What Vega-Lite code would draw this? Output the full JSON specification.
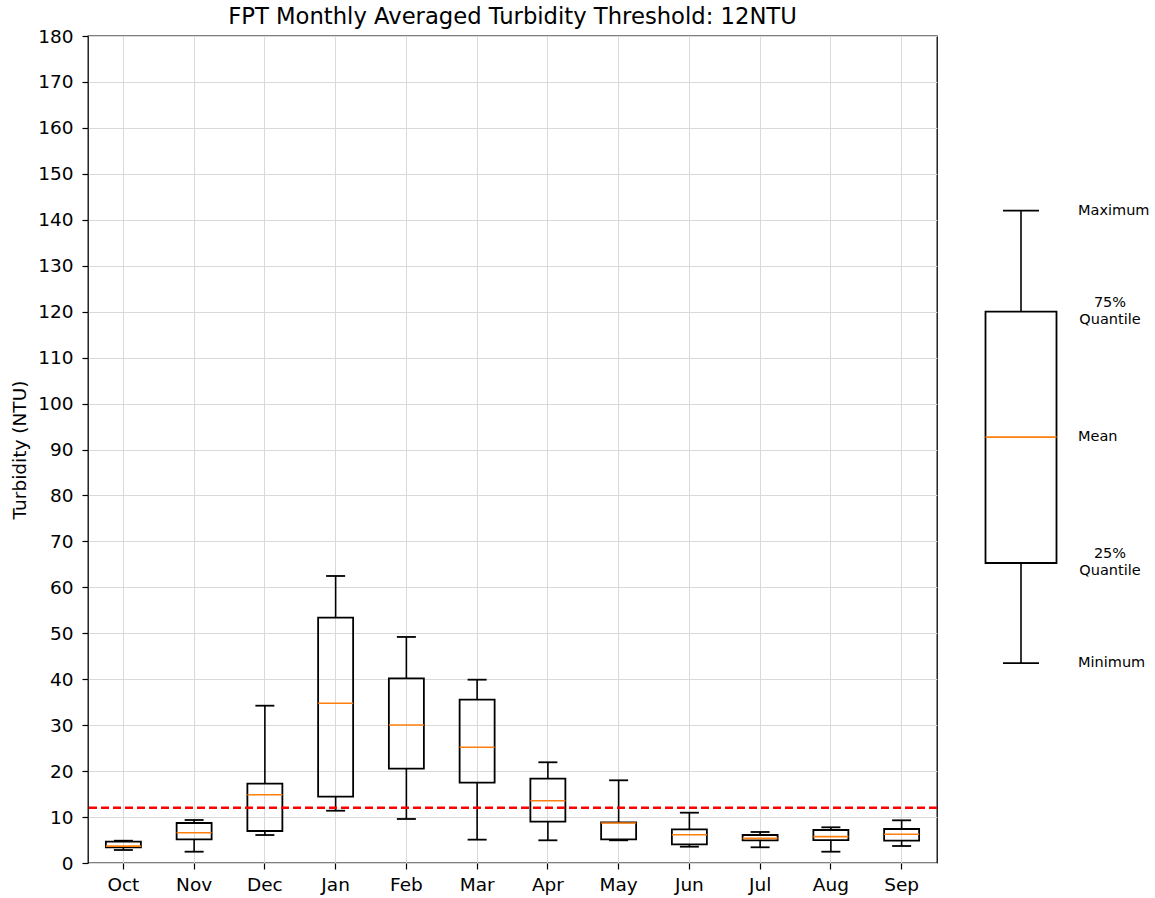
{
  "$schema": "https://vega.github.io/schema/vega-lite/v6.json",
  "padding": {"left": 10, "top": 5, "right": 0, "bottom": 5},
  "background": "white",
  "bounds": "flush",
  "spacing": 3,
  "config": {
    "font": "DejaVu Sans",
    "view": {"stroke": null},
    "axis": {
      "labelColor": "black",
      "titleColor": "black",
      "tickColor": "black",
      "labelFont": "DejaVu Sans",
      "titleFont": "DejaVu Sans",
      "labelFontSize": 18.5,
      "titleFontSize": 18.5,
      "titleFontWeight": "normal",
      "tickSize": 6,
      "tickWidth": 1.2,
      "gridColor": "#d9d9d9",
      "gridWidth": 1,
      "domain": false
    }
  },
  "datasets": {
    "months": [
      {"month": "Oct", "min": 2.83, "q1": 3.42, "median": 3.68, "q3": 4.64, "max": 4.85},
      {"month": "Nov", "min": 2.46, "q1": 5.16, "median": 6.6, "q3": 8.71, "max": 9.36},
      {"month": "Dec", "min": 6.09, "q1": 6.97, "median": 14.87, "q3": 17.26, "max": 34.24},
      {"month": "Jan", "min": 11.38, "q1": 14.43, "median": 34.76, "q3": 53.4, "max": 62.47},
      {"month": "Feb", "min": 9.58, "q1": 20.53, "median": 30.04, "q3": 40.2, "max": 49.2},
      {"month": "Mar", "min": 5.08, "q1": 17.48, "median": 25.18, "q3": 35.55, "max": 39.9},
      {"month": "Apr", "min": 4.94, "q1": 8.99, "median": 13.56, "q3": 18.35, "max": 21.92},
      {"month": "May", "min": 4.94, "q1": 5.16, "median": 8.71, "q3": 8.86, "max": 18.0},
      {"month": "Jun", "min": 3.55, "q1": 4.07, "median": 6.16, "q3": 7.33, "max": 10.95},
      {"month": "Jul", "min": 3.42, "q1": 4.94, "median": 5.37, "q3": 6.09, "max": 6.75},
      {"month": "Aug", "min": 2.46, "q1": 5.0, "median": 5.73, "q3": 7.18, "max": 7.77},
      {"month": "Sep", "min": 3.7, "q1": 4.86, "median": 6.25, "q3": 7.4, "max": 9.29}
    ],
    "legendbox": [
      {"k": "box", "min": 43.5, "q1": 65.3, "median": 92.7, "q3": 120, "max": 142}
    ],
    "labels1": [
      {"k": "box", "label": "Maximum", "v": 142},
      {"k": "box", "label": "Mean", "v": 92.7},
      {"k": "box", "label": "Minimum", "v": 43.5}
    ],
    "labels2": [
      {"k": "box", "label": "75%\nQuantile", "v": 120},
      {"k": "box", "label": "25%\nQuantile", "v": 65.3}
    ],
    "threshold": [{"t": 12}]
  },
  "hconcat": [
    {
      "width": 849,
      "height": 827,
      "title": {"text": "FPT Monthly Averaged Turbidity Threshold: 12NTU", "fontSize": 22.7, "fontWeight": "normal", "color": "black", "font": "DejaVu Sans", "offset": -2},
      "view": {"stroke": "black", "strokeWidth": 1.3},
      "data": {"name": "months"},
      "layer": [
        {
          "mark": {"type": "rule", "color": "black", "strokeWidth": 1.6},
          "encoding": {
            "x": {"field": "month", "type": "nominal", "sort": null, "scale": {"paddingInner": 0, "paddingOuter": 0},
                  "axis": {"title": null, "labelAngle": 0, "grid": true, "labelPadding": 6}},
            "y": {"field": "min", "type": "quantitative", "scale": {"domain": [0, 180], "nice": false},
                  "axis": {"title": "Turbidity (NTU)", "values": [0,10,20,30,40,50,60,70,80,90,100,110,120,130,140,150,160,170,180], "grid": true, "labelPadding": 9, "titlePadding": 8}},
            "y2": {"field": "q1"}
          }
        },
        {
          "mark": {"type": "rule", "color": "black", "strokeWidth": 1.6},
          "encoding": {
            "x": {"field": "month", "type": "nominal", "sort": null},
            "y": {"field": "q3", "type": "quantitative"},
            "y2": {"field": "max"}
          }
        },
        {
          "mark": {"type": "tick", "color": "black", "size": 19, "thickness": 1.8, "opacity": 1},
          "encoding": {
            "x": {"field": "month", "type": "nominal", "sort": null},
            "y": {"field": "min", "type": "quantitative"}
          }
        },
        {
          "mark": {"type": "tick", "color": "black", "size": 19, "thickness": 1.8, "opacity": 1},
          "encoding": {
            "x": {"field": "month", "type": "nominal", "sort": null},
            "y": {"field": "max", "type": "quantitative"}
          }
        },
        {
          "mark": {"type": "bar", "fillOpacity": 0, "stroke": "black", "strokeWidth": 1.8, "size": 35},
          "encoding": {
            "x": {"field": "month", "type": "nominal", "sort": null},
            "y": {"field": "q1", "type": "quantitative"},
            "y2": {"field": "q3"}
          }
        },
        {
          "mark": {"type": "tick", "color": "#ff7f0e", "size": 35, "thickness": 1.6, "opacity": 1},
          "encoding": {
            "x": {"field": "month", "type": "nominal", "sort": null},
            "y": {"field": "median", "type": "quantitative"}
          }
        },
        {
          "data": {"name": "threshold"},
          "mark": {"type": "rule", "color": "red", "strokeWidth": 2.5, "strokeDash": [8, 4]},
          "encoding": {
            "y": {"field": "t", "type": "quantitative"}
          }
        }
      ]
    },
    {
      "width": 162,
      "height": 827,
      "data": {"name": "legendbox"},
      "layer": [
        {
          "mark": {"type": "rule", "color": "black", "strokeWidth": 1.6},
          "encoding": {
            "x": {"field": "k", "type": "nominal", "scale": {"paddingInner": 0, "paddingOuter": 0}, "axis": null},
            "y": {"field": "min", "type": "quantitative", "scale": {"domain": [0, 180], "nice": false}, "axis": null},
            "y2": {"field": "q1"}
          }
        },
        {
          "mark": {"type": "rule", "color": "black", "strokeWidth": 1.6},
          "encoding": {
            "x": {"field": "k", "type": "nominal"},
            "y": {"field": "q3", "type": "quantitative"},
            "y2": {"field": "max"}
          }
        },
        {
          "mark": {"type": "tick", "color": "black", "size": 36, "thickness": 1.8, "opacity": 1},
          "encoding": {
            "x": {"field": "k", "type": "nominal"},
            "y": {"field": "min", "type": "quantitative"}
          }
        },
        {
          "mark": {"type": "tick", "color": "black", "size": 36, "thickness": 1.8, "opacity": 1},
          "encoding": {
            "x": {"field": "k", "type": "nominal"},
            "y": {"field": "max", "type": "quantitative"}
          }
        },
        {
          "mark": {"type": "bar", "fillOpacity": 0, "stroke": "black", "strokeWidth": 1.8, "size": 71},
          "encoding": {
            "x": {"field": "k", "type": "nominal"},
            "y": {"field": "q1", "type": "quantitative"},
            "y2": {"field": "q3"}
          }
        },
        {
          "mark": {"type": "tick", "color": "#ff7f0e", "size": 71, "thickness": 1.6, "opacity": 1},
          "encoding": {
            "x": {"field": "k", "type": "nominal"},
            "y": {"field": "median", "type": "quantitative"}
          }
        },
        {
          "data": {"name": "labels1"},
          "mark": {"type": "text", "align": "left", "baseline": "middle", "dx": 57, "fontSize": 14.5, "color": "black"},
          "encoding": {
            "x": {"field": "k", "type": "nominal"},
            "y": {"field": "v", "type": "quantitative"},
            "text": {"field": "label"}
          }
        },
        {
          "data": {"name": "labels2"},
          "mark": {"type": "text", "align": "center", "baseline": "middle", "dx": 89, "dy": -8.5, "fontSize": 14.5, "lineHeight": 17, "lineBreak": "\n", "color": "black"},
          "encoding": {
            "x": {"field": "k", "type": "nominal"},
            "y": {"field": "v", "type": "quantitative"},
            "text": {"field": "label"}
          }
        }
      ]
    }
  ]
}
